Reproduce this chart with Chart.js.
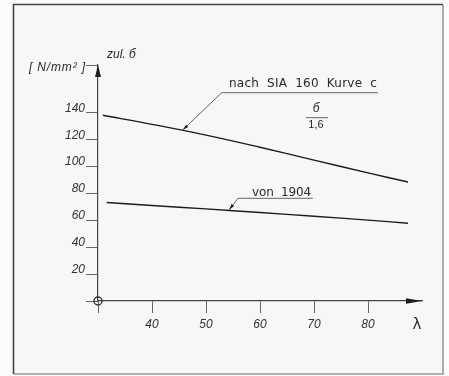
<!DOCTYPE html>
<html><head><meta charset="utf-8">
<script src="https://cdn.jsdelivr.net/npm/chart.js@4.4.0/dist/chart.umd.min.js"></script>
<style>html,body{margin:0;padding:0;background:#fcfbfb;overflow:hidden}#wrap{width:449px;height:376px}</style>
</head><body><div id="wrap"><canvas id="c" width="449" height="376"></canvas></div>
<script>
// Data
const lambdaSIA = [30.9, 40, 50, 60, 70, 80, 87.4];
const sigmaSIA  = [137.7, 131.0, 123.0, 114.0, 104.5, 95.0, 88.2];
const lambda1904 = [31.6, 40, 50, 60, 70, 80, 87.4];
const sigma1904  = [73.0, 70.8, 68.3, 65.6, 62.8, 60.0, 57.6];
const xTickLabels = [40, 50, 60, 70, 80];
const yTickLabels = [20, 40, 60, 80, 100, 120, 140];
const labelSIA = 'nach  SIA  160  Kurve  c';
const label1904 = 'von  1904';
const yTitle = 'zul. б';
const yUnit = '[ N/mm² ]';
const xTitle = 'λ';

const INK = '#1c1c1c';
const tickFont = {family: 'Liberation Sans', size: 12, style: 'italic'};

function pts(xs, ys){ return xs.map((x,i)=>({x:x, y:ys[i]})); }

function fitText(ctx, text, x, y, w, font){
  ctx.save();
  ctx.font = font;
  ctx.letterSpacing = '0px';
  const n = text.length;
  const base = ctx.measureText(text).width;
  const ls = (w - base) / Math.max(1, n - 1);
  ctx.letterSpacing = ls.toFixed(2) + 'px';
  ctx.textAlign = 'left';
  ctx.textBaseline = 'middle';
  ctx.fillText(text, x, y);
  ctx.restore();
}

const deco = {
  id: 'deco',
  beforeDraw(chart){
    const ctx = chart.ctx;
    ctx.save();
    ctx.fillStyle = '#fcfbfb';
    ctx.fillRect(0,0,449,376);
    ctx.fillStyle = '#f8f6f6';
    ctx.fillRect(14,5,429,369);
    ctx.lineWidth = 1.6;
    ctx.strokeStyle = '#9a9a9a';
    ctx.beginPath(); ctx.moveTo(443,5); ctx.lineTo(443,374); ctx.lineTo(14,374); ctx.stroke();
    ctx.strokeStyle = '#444';
    ctx.beginPath(); ctx.moveTo(13.5,374); ctx.lineTo(13.5,4.5); ctx.lineTo(443,4.5); ctx.stroke();
    ctx.restore();
  },
  afterDraw(chart){
    const ctx = chart.ctx;
    const xs = chart.scales.x, ys = chart.scales.y;
    const x0 = xs.getPixelForValue(30), y0 = ys.getPixelForValue(0);
    const xEnd = xs.getPixelForValue(90), yTop = ys.getPixelForValue(175);
    ctx.save();
    ctx.fillStyle = INK;
    // y arrow
    ctx.beginPath(); ctx.moveTo(x0, yTop); ctx.lineTo(x0-3, yTop+12); ctx.lineTo(x0+3, yTop+12); ctx.closePath(); ctx.fill();
    // x arrow
    ctx.beginPath(); ctx.moveTo(xEnd, y0); ctx.lineTo(xEnd-16, y0-2.8); ctx.lineTo(xEnd-16, y0+2.8); ctx.closePath(); ctx.fill();
    // origin circle
    ctx.strokeStyle = '#333'; ctx.lineWidth = 1.4;
    ctx.beginPath(); ctx.arc(x0, y0, 4, 0, Math.PI*2); ctx.stroke();

    // titles
    ctx.fillStyle = '#2a2a2a';
    ctx.font = 'italic 12px "Liberation Sans"';
    ctx.textBaseline = 'middle'; ctx.textAlign = 'left';
    ctx.fillText(yTitle, 107, 55);
    fitText(ctx, yUnit, 29, 68, 56, 'italic 12px "Liberation Sans"');
    ctx.font = '15px "DejaVu Sans"'; ctx.textAlign = 'center';
    ctx.fillText(xTitle, 417, 325);

    // leaders
    function leader(lx, ly, kx, ky, ex){
      const ax = xs.getPixelForValue(lx), ay = ys.getPixelForValue(ly);
      ctx.strokeStyle = '#555'; ctx.lineWidth = 0.9;
      ctx.beginPath(); ctx.moveTo(ax, ay); ctx.lineTo(kx, ky); ctx.lineTo(ex, ky); ctx.stroke();
      const ang = Math.atan2(ay-ky, ax-kx);
      ctx.fillStyle = INK;
      ctx.beginPath();
      ctx.moveTo(ax, ay);
      ctx.lineTo(ax - 6*Math.cos(ang) + 1.6*Math.sin(ang), ay - 6*Math.sin(ang) - 1.6*Math.cos(ang));
      ctx.lineTo(ax - 6*Math.cos(ang) - 1.6*Math.sin(ang), ay - 6*Math.sin(ang) + 1.6*Math.cos(ang));
      ctx.closePath(); ctx.fill();
    }
    leader(45.7, 126.8, 221.7, 92.7, 378);
    leader(54.3, 67.6, 238, 198.3, 312.7);

    ctx.fillStyle = '#2a2a2a';
    fitText(ctx, labelSIA, 229, 84, 148, '12px "DejaVu Sans"');
    fitText(ctx, label1904, 252, 192.5, 59, '12px "DejaVu Sans"');
    // fraction
    ctx.font = 'italic 12px "Liberation Sans"'; ctx.textAlign = 'center'; ctx.textBaseline = 'middle';
    ctx.fillText('б', 316, 109);
    ctx.strokeStyle = '#555'; ctx.lineWidth = 0.9;
    ctx.beginPath(); ctx.moveTo(306, 117.7); ctx.lineTo(328, 117.7); ctx.stroke();
    ctx.font = '11px "Liberation Sans"';
    ctx.fillText('1,6', 316, 125);
    ctx.restore();
  }
};

new Chart(document.getElementById('c'), {
  type: 'line',
  data: {
    datasets: [
      {label: 'SIA 160', data: pts(lambdaSIA, sigmaSIA), borderColor: INK, borderWidth: 1.4, pointRadius: 0, tension: 0.4, fill: false},
      {label: '1904', data: pts(lambda1904, sigma1904), borderColor: INK, borderWidth: 1.4, pointRadius: 0, tension: 0.4, fill: false}
    ]
  },
  options: {
    responsive: false,
    devicePixelRatio: 1,
    animation: false,
    layout: {padding: {left: 0, top: 65, right: 27, bottom: 0}},
    plugins: {legend: {display: false}, tooltip: {enabled: false}},
    scales: {
      x: {
        type: 'linear', min: 30, max: 90, position: 'bottom',
        afterFit(s){ s.height = 75; },
        ticks: {stepSize: 10, autoSkip: false, maxRotation: 0, padding: 4, color: '#333', font: tickFont,
          callback: v => xTickLabels.includes(v) ? String(v) : ''},
        grid: {display: true, drawOnChartArea: false, drawTicks: true, tickLength: 12, tickWidth: 1,
          tickColor: c => (c.tick && c.tick.value === 90) ? 'rgba(0,0,0,0)' : '#666'},
        border: {display: true, color: '#444', width: 1.2}
      },
      y: {
        type: 'linear', min: 0, max: 175, position: 'left',
        afterFit(s){ s.width = 98; },
        ticks: {stepSize: 20, autoSkip: false, padding: 1, labelOffset: -4, color: '#333', font: tickFont,
          callback: v => yTickLabels.includes(v) ? String(v) : ''},
        grid: {display: true, drawOnChartArea: false, drawTicks: true, tickLength: 12, tickWidth: 1,
          tickColor: c => (c.tick && c.tick.value === 160) ? 'rgba(0,0,0,0)' : '#666'},
        border: {display: true, color: '#444', width: 1.2}
      }
    }
  },
  plugins: [deco]
});
</script>
</body></html>
